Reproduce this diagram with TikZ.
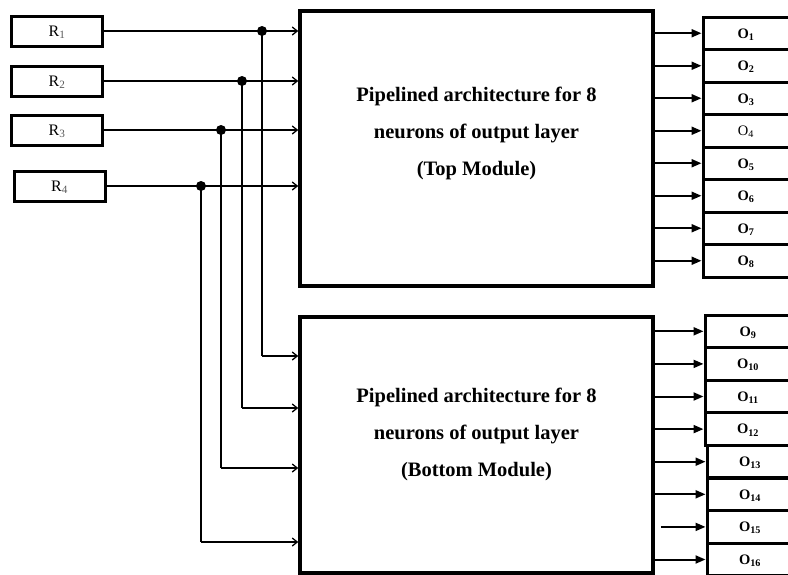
\documentclass[tikz,border=0pt]{standalone}
\usepackage{fontspec}
\setmainfont{Liberation Serif}
\usetikzlibrary{arrows.meta}
\begin{document}
\begin{tikzpicture}[x=1pt,y=-1pt,
  rbox/.style={draw,line width=3pt,minimum width=91pt,minimum height=30pt,inner sep=0pt,text depth=0pt,font=\fontsize{16}{16}\selectfont},
  modbox/.style={draw,line width=3.5pt,minimum width=353pt,inner sep=0pt},
  modtxt/.style={align=center,inner sep=0pt,font=\bfseries\fontsize{20.5}{37}\selectfont},
  obox/.style={draw,line width=3pt,minimum width=86pt,minimum height=32.5pt,inner sep=0pt,text depth=0pt,font=\bfseries\fontsize{14.5}{14.5}\selectfont},
  oboxl/.style={obox,font=\fontsize{14.5}{14.5}\selectfont},
  inarr/.style={line width=2pt,-{Straight Barb[length=5pt,width=8pt,line width=1.3pt]}},
  feed/.style={line width=1.2pt},
  outarr/.style={line width=2pt,-{Triangle[length=10pt,width=8pt]}},
  dot/.style={circle,fill,inner sep=0pt,minimum size=10pt}]
\useasboundingbox (0,0) rectangle (788,574);
\newcommand{\rsub}[1]{\textsubscript{\color{black!65}#1}}
% input registers
\node[rbox] (R1) at (57,31) {R\rsub{1}};
\node[rbox] (R2) at (57,81) {R\rsub{2}};
\node[rbox] (R3) at (57,130) {R\rsub{3}};
\node[rbox] (R4) at (59.5,186) {R\rsub{4}};
% modules
\node[modbox,minimum height=275pt] (top) at (476.5,148.5) {};
\node[modtxt] (toptxt) at (476.5,133) {Pipelined architecture for 8\\neurons of output layer\\(Top Module)};
\node[modbox,minimum height=256pt] (bot) at (476.5,445) {};
\node[modtxt] (bottxt) at (476.5,434) {Pipelined architecture for 8\\neurons of output layer\\(Bottom Module)};
% taps
\node[dot] (d1) at (262,31) {};
\node[dot] (d2) at (242,81) {};
\node[dot] (d3) at (221,130) {};
\node[dot] (d4) at (201,186) {};
\coordinate (c1) at (262,356);
\coordinate (c2) at (242,408);
\coordinate (c3) at (221,468);
\coordinate (c4) at (201,542);
% inputs to top
\foreach \i in {1,...,4}{
  \draw[inarr] (R\i.east) -- (R\i.east -| top.west);
  \draw[feed] (d\i.center) -- (c\i);
  \draw[inarr] (c\i) -- (c\i -| bot.west);
}
% output boxes
\node[obox] (O1) at (746,33.25) {O\textsubscript{1}};
\node[obox] (O2) at (746,65.75) {O\textsubscript{2}};
\node[obox] (O3) at (746,98.25) {O\textsubscript{3}};
\node[oboxl] (O4) at (746,130.75) {O\textsubscript{4}};
\node[obox] (O5) at (746,163.25) {O\textsubscript{5}};
\node[obox] (O6) at (746,195.75) {O\textsubscript{6}};
\node[obox] (O7) at (746,228.25) {O\textsubscript{7}};
\node[obox] (O8) at (746,260.75) {O\textsubscript{8}};
\node[obox] (O9) at (748,331.3) {O\textsubscript{9}};
\node[obox] (O10) at (748,363.9) {O\textsubscript{10}};
\node[obox] (O11) at (748,396.5) {O\textsubscript{11}};
\node[obox] (O12) at (748,429.1) {O\textsubscript{12}};
\node[obox] (O13) at (750,461.7) {O\textsubscript{13}};
\node[obox] (O14) at (750,494.3) {O\textsubscript{14}};
\node[obox] (O15) at (750,526.9) {O\textsubscript{15}};
\node[obox] (O16) at (750,559.5) {O\textsubscript{16}};
\foreach \i in {1,...,8}{
  \draw[outarr] (O\i.west -| top.east) -- (O\i.west);
}
\foreach \i in {9,10,11,12,13,14,16}{
  \draw[outarr] (O\i.west -| bot.east) -- (O\i.west);
}
\draw[outarr] ([xshift=6pt]O15.west -| bot.east) -- (O15.west);
\end{tikzpicture}
\end{document}
